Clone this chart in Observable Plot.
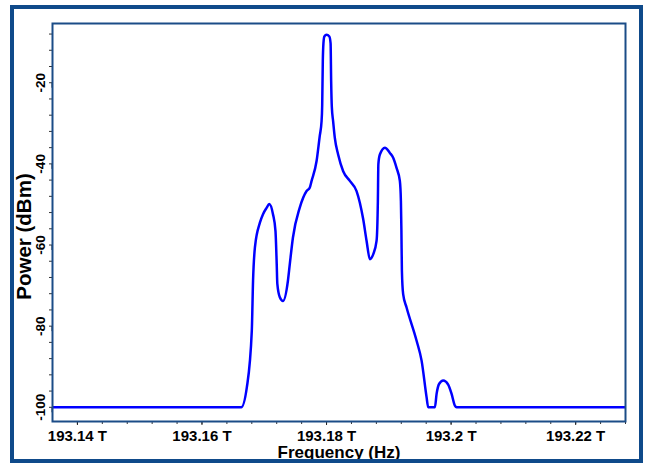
<!DOCTYPE html>
<html><head><meta charset="utf-8">
<script src="https://cdn.jsdelivr.net/npm/d3@7"></script>
<script src="https://cdn.jsdelivr.net/npm/@observablehq/plot@0.6"></script>
<style>
body{margin:0;background:#fff;}
#wrap{position:relative;width:646px;height:466px;overflow:hidden;background:#fff;}
#chart{position:absolute;left:0;top:0;}
#border{position:absolute;left:10px;top:5px;width:625px;height:450px;border:4px solid #0f4a8a;pointer-events:none;}
</style></head><body>
<div id="wrap"><div id="chart"></div><div id="border"></div></div>
<script>
// Frequency in THz, power in dBm
const freqTHz = [193.136, 193.1663, 193.1672, 193.1680, 193.1682, 193.1685, 193.1693, 193.1698, 193.1704, 193.1708,
  193.1714, 193.1718, 193.1720, 193.1721, 193.1725, 193.1730, 193.1738, 193.1741, 193.1746, 193.1757,
  193.1768, 193.1773, 193.1776, 193.1784, 193.1789, 193.1792, 193.1793, 193.1794, 193.1795, 193.17965,
  193.1800, 193.18045, 193.18065, 193.18074, 193.18085, 193.18106, 193.18133, 193.18186, 193.18267, 193.18374,
  193.18482, 193.18588, 193.18643, 193.18696, 193.18749, 193.18803, 193.18824, 193.18832, 193.18856, 193.18937,
  193.19017, 193.1907, 193.19124, 193.19177, 193.19194, 193.19202, 193.1921, 193.1923, 193.19285, 193.19446,
  193.19526, 193.19606, 193.19632, 193.1974, 193.19767, 193.19809, 193.19873, 193.19953, 193.20008, 193.20061,
  193.20088, 193.228];
const powerDbm = [-100, -100, -95.1, -81.1, -68.8, -60.6, -54.5, -52.4, -50.8, -49.9,
  -52.4, -56.5, -64.7, -69.6, -72.9, -73.8, -68.8, -64.7, -58.2, -50.8,
  -46.7, -45.9, -44.2, -39.3, -33.2, -29.5, -25.6, -14.7, -10.3, -8.6,
  -8.2, -8.6, -10.3, -19.6, -26.0, -29.5, -33.6, -37.7, -41.8, -44.2,
  -46.7, -53.6, -59.0, -63.5, -62.3, -59.0, -49.2, -40.1, -37.7, -36.0,
  -37.3, -38.5, -41.0, -44.2, -49.2, -56.5, -66.4, -72.1, -75.4, -83.6,
  -88.5, -97.5, -100, -100, -96.7, -94.2, -93.4, -94.4, -96.7, -99.6,
  -100, -100];
const xMajor = [193.14, 193.16, 193.18, 193.2, 193.22];
const xMinor = d3.range(0, 23).map(i => 193.14 + i * 0.004).filter(v => v <= 193.228);
const yMajor = [-20, -40, -60, -80, -100];
const yMinor = d3.range(0, 24).map(i => -100 + i * 4);
const xLabel = "Frequency (Hz)";
const yLabel = "Power (dBm)";

const data = freqTHz.map((f, i) => ({f, p: powerDbm[i]}));
const font = "Liberation Sans, Arial, sans-serif";
const frameColor = "#1b4c87";

const chart = Plot.plot({
  width: 646, height: 466,
  marginLeft: 52, marginRight: 21, marginTop: 23, marginBottom: 45,
  style: {fontFamily: font, fontWeight: "bold", color: "#000", background: "transparent"},
  x: {domain: [193.136, 193.228]},
  y: {domain: [-103.5, -5.4]},
  marks: [
    Plot.line(data, {x: "f", y: "p", stroke: "#0000ff", strokeWidth: 2.5, curve: "monotone-x", clip: true}),
    Plot.axisX({ticks: xMinor, tickSize: 3, tickFormat: () => "", label: null, stroke: "#333"}),
    Plot.axisX({ticks: xMajor, tickSize: 4, tickPadding: 5, tickFormat: d => `${+d.toFixed(2)} T`, fontSize: 15, fontWeight: "bold", fill: "#000", label: null, stroke: "#222"}),
    Plot.axisY({ticks: yMinor, tickSize: 3, tickFormat: () => "", label: null, stroke: "#333"}),
    Plot.axisY({ticks: yMajor, tickSize: 5, tickPadding: 3, rotate: -90, textAnchor: "middle", lineAnchor: "bottom", tickFormat: d => String(d), fontSize: 13.5, fontWeight: "bold", fill: "#000", label: null, stroke: "#222"}),
    Plot.frame({stroke: frameColor, strokeWidth: 2}),
    Plot.text([xLabel], {frameAnchor: "bottom", dy: 31, fontSize: 17, fontWeight: "bold", lineAnchor: "middle", textAnchor: "middle", fill: "#000"}),
    Plot.text([yLabel], {frameAnchor: "left", dx: -28, dy: 14, rotate: -90, fontSize: 20.5, fontWeight: "bold", textAnchor: "middle", lineAnchor: "middle", fill: "#000"})
  ]
});
document.getElementById("chart").appendChild(chart);
</script>
</body></html>
